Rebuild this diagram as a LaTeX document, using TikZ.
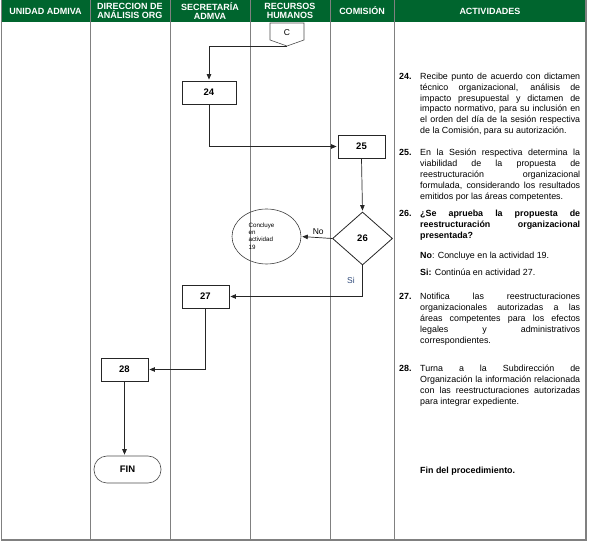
\documentclass[tikz,border=0pt]{standalone}
\usepackage{fontspec}
\setmainfont{Liberation Sans}
\usetikzlibrary{shapes.geometric,arrows.meta,calc}
\definecolor{hdr}{HTML}{00652E}
\definecolor{gridc}{HTML}{808080}
\definecolor{sicol}{HTML}{2F4A7A}
\begin{document}
\begin{tikzpicture}[x=1pt,y=-1pt,
  hdrtxt/.style={text=white,font=\bfseries\fontsize{9}{9.7}\selectfont,align=center,inner sep=0pt},
  pbox/.style={draw=black!85,line width=0.8pt,minimum width=47pt,minimum height=23pt,inner sep=0pt,font=\bfseries\fontsize{9.5}{11}\selectfont},
  flow/.style={draw=black!85,line width=0.7pt,-{Triangle[length=5.5pt,width=4.5pt]},shorten >=1pt},
  act/.style={anchor=base west,text width=160pt,align=justify,inner sep=0pt,font=\fontsize{8.9}{10.8}\selectfont,
    execute at begin node={\hyphenpenalty=10000\tolerance=10000\hbadness=10000}},
  num/.style={anchor=base west,inner sep=0pt,font=\bfseries\fontsize{8.9}{10.8}\selectfont},
  lbl/.style={inner sep=0pt,font=\fontsize{8.5}{10}\selectfont}]
\useasboundingbox (0,0) rectangle (590,545);
% header
\fill[hdr] (1,0) rectangle (586,22);
\foreach \x in {90,170,250,330,394}{\draw[gridc,line width=0.8pt] (\x,0) -- (\x,540);}
\draw[gridc,line width=0.8pt] (1,0) -- (1,540);
\draw[gridc,line width=1.3pt] (1,540) -- (586,540) -- (586,0);
\node[hdrtxt] (h1) at (45.5,11) {UNIDAD ADMIVA};
\node[hdrtxt] (h2) at (130,11) {DIRECCION DE\\ANÁLISIS ORG};
\node[hdrtxt] (h3) at (210,11) {SECRETARÍA\\ADMVA};
\node[hdrtxt] (h4) at (290,11) {RECURSOS\\HUMANOS};
\node[hdrtxt] (h5) at (362,11) {COMISIÓN};
\node[hdrtxt] (h6) at (490,11) {ACTIVIDADES};
% connector C
\draw[black!70,line width=0.6pt] (270,23) -- (304,23) -- (304,40) -- (287,46) -- (270,40) -- cycle;
\node[lbl] (cC) at (287,32.5) {C};
\coordinate (ctip) at (287,46);
% boxes
\node[pbox,minimum width=54pt] (b24) at (209,92.5) {24};
\node[pbox] (b25) at (361.5,146.5) {25};
\node[diamond,draw=black!85,line width=0.8pt,minimum width=60pt,minimum height=53pt,inner sep=0pt,font=\bfseries\fontsize{9.5}{11}\selectfont] (d26) at (362.5,238.5) {26};
\node[ellipse,draw=black!75,line width=0.6pt,minimum width=69pt,minimum height=55pt,inner sep=0pt] (circ) at (266.5,236.5) {};
\node[inner sep=0pt,align=left,font=\fontsize{6.2}{7.2}\selectfont] (circtxt) at (261.5,236) {Concluye\\en\\actividad\\19};
\node[pbox] (b27) at (205.5,296.5) {27};
\node[pbox] (b28) at (124.5,369.5) {28};
\node[draw=black!70,line width=0.6pt,rounded corners=13pt,minimum width=67pt,minimum height=27pt,inner sep=0pt,font=\bfseries\fontsize{9.5}{11}\selectfont] (fin) at (127.5,469.5) {FIN};
% connectors
\draw[flow] (ctip) -| (b24.north);
\draw[flow] (b24.south) |- (b25.west);
\draw[flow] (b25.south) -- (d26.north);
\draw[flow] (d26.west) -- node[lbl,above=3pt,pos=0.45] (lno) {No} (circ.east);
\draw[flow] (d26.south) |- (b27.east);
\node[lbl,text=sicol] (lsi) at (351,280) {Si};
\draw[flow] (b27.south) |- (b28.east);
\draw[flow] (b28.south) -- (b28.south |- fin.north);
% activities
\node[num] (n24) at (399,79.5) {24.};
\node[act] (t24) at (420,79.5) {Recibe punto de acuerdo con dictamen\linebreak técnico organizacional, análisis de\linebreak impacto presupuestal y dictamen de\linebreak impacto normativo, para su inclusión en\linebreak el orden del día de la sesión respectiva\linebreak de la Comisión, para su autorización.};
\node[num] (n25) at (399,156) {25.};
\node[act] (t25) at (420,156) {En la Sesión respectiva determina la\linebreak viabilidad de la propuesta de\linebreak reestructuración organizacional\linebreak formulada, considerando los resultados\linebreak emitidos por las áreas competentes.};
\node[num] (n26) at (399,217) {26.};
\node[act,font=\bfseries\fontsize{8.9}{10.8}\selectfont] (t26) at (420,217) {¿Se aprueba la propuesta de\linebreak reestructuración organizacional\linebreak presentada?};
\node[act] (tno) at (420,259) {\textbf{No}: Concluye en la actividad 19.};
\node[act] (tsi) at (420,276) {\textbf{Si:} Continúa en actividad 27.};
\node[num] (n27) at (399,300) {27.};
\node[act] (t27) at (420,300) {Notifica las reestructuraciones\linebreak organizacionales autorizadas a las\linebreak áreas competentes para los efectos\linebreak legales y administrativos\linebreak correspondientes.};
\node[num] (n28) at (399,372) {28.};
\node[act] (t28) at (420,372) {Turna a la Subdirección de\linebreak Organización la información relacionada\linebreak con las reestructuraciones autorizadas\linebreak para integrar expediente.};
\node[act,font=\bfseries\fontsize{8.9}{10.8}\selectfont] (tfin) at (420,474) {Fin del procedimiento.};
\end{tikzpicture}
\end{document}
